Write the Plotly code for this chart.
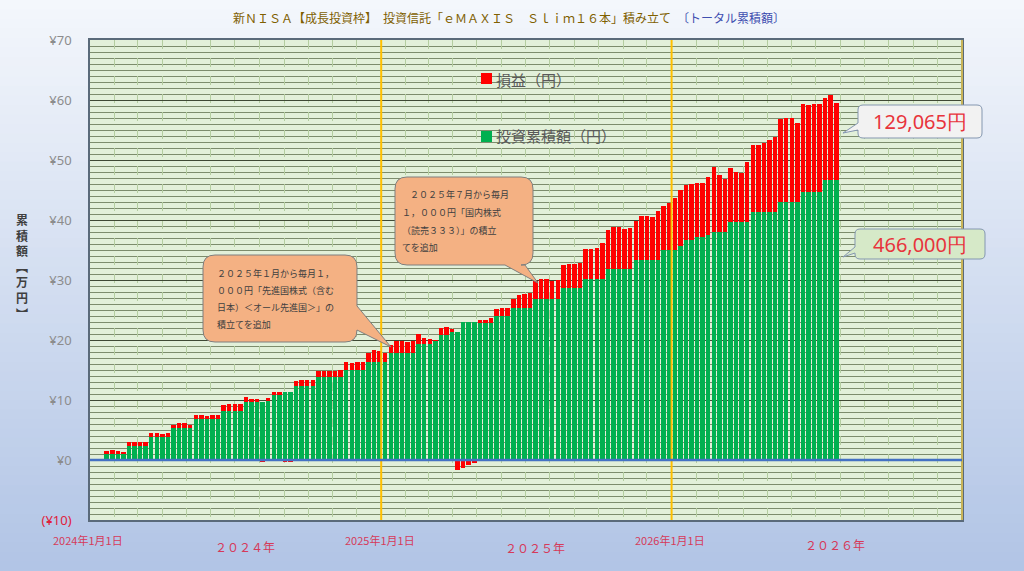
import plotly.graph_objects as go
import pandas as pd

# weekly snapshots (万円)
weeks = pd.date_range("2024-01-22", periods=132, freq="7D")

invest = [1.0, 1.0, 1.0, 1.0, 2.3, 2.3, 2.3, 2.3, 3.8, 3.8, 3.8, 3.8,
          5.3, 5.3, 5.3, 5.3, 6.8, 6.8, 6.8, 6.8, 6.8, 8.1, 8.1, 8.1, 8.1,
          9.7, 9.7, 9.7, 9.7, 9.8, 10.8, 10.8, 11.4, 11.4,
          12.3, 12.3, 12.3, 12.3, 13.8, 13.8, 13.8, 13.8, 13.8,
          15.0, 15.0, 15.0, 15.0, 16.4, 16.4, 16.4, 16.4,
          17.9, 17.9, 17.9, 17.9, 17.9, 19.4, 19.4, 19.4, 19.9, 20.8, 20.8, 21.4, 21.4,
          23.0, 23.0, 23.0, 22.8, 22.8, 22.8, 24.0, 24.0, 24.0,
          25.4, 25.4, 25.4, 25.4, 26.9, 26.9, 26.9, 26.9, 26.9,
          28.6, 28.6, 28.6, 28.6, 30.1, 30.1, 30.1, 30.1,
          31.8, 31.8, 31.8, 31.8, 31.8, 33.3, 33.3, 33.3, 33.3, 33.3,
          35.0, 35.0, 35.0, 35.6, 36.7, 36.7, 37.2, 37.2, 37.5, 38.0, 38.0, 38.0,
          39.7, 39.7, 39.7, 39.7, 41.4, 41.4, 41.4, 41.4, 41.4,
          43.0, 43.0, 43.0, 43.0, 44.7, 44.7, 44.7, 44.7, 46.6, 46.6, 46.6]

profit = [0.5, 0.6, 0.5, 0.4, 0.7, 0.7, 0.7, 0.7, 0.7, 0.7, 0.5, 0.7,
          0.6, 0.8, 0.8, 0.6, 0.7, 0.7, 0.6, 0.7, 0.7, 1.1, 1.2, 1.2, 1.2,
          0.8, 0.5, 0.5, -0.4, 0.5, 0.6, 0.6, -0.3, -0.3,
          0.8, 1.0, 1.0, 1.0, 1.0, 1.1, 1.1, 1.1, 1.2,
          1.3, 1.2, 1.3, 1.4, 1.5, 1.9, 1.8, 1.4,
          1.3, 2.0, 1.9, 1.8, 2.0, 1.6, 1.0, 0.8, 0.1, 1.2, 1.4, 0.5, -1.7,
          -1.3, -0.8, -0.5, 0.5, 0.6, 0.9, 1.2, 1.3, 1.3,
          1.5, 2.1, 2.3, 2.4, 3.0, 3.2, 3.3, 2.9, 3.1,
          3.9, 4.1, 4.1, 4.3, 5.0, 5.1, 5.2, 6.0,
          6.5, 7.0, 7.1, 6.7, 6.9, 6.6, 7.3, 7.4, 7.2, 8.2,
          7.3, 7.9, 8.6, 9.4, 9.1, 9.3, 8.9, 8.9, 9.7, 10.8, 9.5, 8.9,
          8.9, 8.3, 8.2, 10.0, 11.1, 11.1, 11.4, 11.9, 12.5,
          13.8, 14.0, 14.0, 13.1, 14.6, 14.5, 14.6, 14.6, 13.8, 14.2, 12.9]

y_ticks = [-10, 0, 10, 20, 30, 40, 50, 60, 70]
y_labels = ['<span style="color:#E0203A">(¥10)</span>', "¥0", "¥10", "¥20", "¥30",
            "¥40", "¥50", "¥60", "¥70"]

year_lines = ["2025-01-01", "2026-01-01"]
date_labels = ["2024年1月1日", "2025年1月1日", "2026年1月1日"]
year_labels = ["２０２４年", "２０２５年", "２０２６年"]

JP = "Noto Sans CJK JP"

# plot area in pixels: x 90..962, y 40..520
def pp(x, y):
    return (x - 90) / 872, (520 - y) / 480

def bubble(x0, y0, x1, y1, side, a, b, tip, r=8):
    seg = [("M", (x0 + r, y0)), ("L", (x1 - r, y0)), ("Q", (x1, y0), (x1, y0 + r))]
    if side == "right":
        seg += [("L", (x1, a)), ("L", tip), ("L", (x1, b))]
    seg += [("L", (x1, y1 - r)), ("Q", (x1, y1), (x1 - r, y1))]
    if side == "bottom":
        seg += [("L", (a, y1)), ("L", tip), ("L", (b, y1))]
    seg += [("L", (x0 + r, y1)), ("Q", (x0, y1), (x0, y1 - r))]
    if side == "left":
        seg += [("L", (x0, a)), ("L", tip), ("L", (x0, b))]
    seg += [("L", (x0, y0 + r)), ("Q", (x0, y0), (x0 + r, y0))]
    path = ""
    for s in seg:
        path += s[0] + " ".join("%.5f,%.5f" % pp(*p) for p in s[1:]) + " "
    return path + "Z"

fig = go.Figure()
fig.add_trace(go.Bar(x=weeks, y=invest, name="投資累積額（円）", marker_color="#00B050",
                     marker_line_width=0, width=5.6 * 86400000))
fig.add_trace(go.Bar(x=weeks, y=profit, name="損益（円）", marker_color="#FF0000",
                     marker_line_width=0, width=5.6 * 86400000))

shapes = []
# background gradient
n = 60
for k in range(n):
    t = k / (n - 1)
    c = (int(244 - 66 * t), int(247 - 50 * t), int(252 - 22 * t))
    y0 = 571 * k / n
    y1 = 571 * (k + 1) / n + 1
    shapes.append(dict(type="rect", xref="paper", yref="paper", layer="below",
                       x0=pp(0, 0)[0], x1=pp(1024, 0)[0], y0=pp(0, y1)[1], y1=pp(0, y0)[1],
                       fillcolor="rgb(%d,%d,%d)" % c, line_width=0))
# plot area fill
shapes.append(dict(type="rect", xref="x domain", yref="y domain", layer="below",
                   x0=0, x1=1, y0=0, y1=1, fillcolor="#E2F0D9", line_width=0))
for d in year_lines:
    shapes.append(dict(type="line", xref="x", yref="y domain", layer="above",
                       x0=d, x1=d, y0=0, y1=1, line=dict(color="#FFC000", width=2)))
shapes.append(dict(type="line", xref="x domain", yref="y domain", x0=1, x1=1, y0=0, y1=1,
                   line=dict(color="#C9B458", width=2)))
shapes.append(dict(type="line", xref="x domain", yref="y", x0=0, x1=1, y0=0, y1=0,
                   line=dict(color="#4472C4", width=2.5)))
# callouts
shapes.append(dict(type="path", xref="paper", yref="paper",
                   path=bubble(203, 255, 357, 342, "right", 306, 330, (391, 347), 12),
                   fillcolor="#F4B183", line=dict(color="#7F7F7F", width=1)))
shapes.append(dict(type="path", xref="paper", yref="paper",
                   path=bubble(395, 177, 533, 265, "bottom", 525, 505, (538, 283), 12),
                   fillcolor="#F4B183", line=dict(color="#7F7F7F", width=1)))
shapes.append(dict(type="path", xref="paper", yref="paper",
                   path=bubble(858, 105, 982, 138, "left", 130, 123, (843, 133), 5),
                   fillcolor="#F2F2F2", line=dict(color="#8497B0", width=1)))
shapes.append(dict(type="path", xref="paper", yref="paper",
                   path=bubble(855, 229, 985, 259, "left", 253, 247, (843, 257), 5),
                   fillcolor="#D6E9C8", line=dict(color="#8497B0", width=1)))
# legend squares
for (c, yt) in [("#FF0000", 73), ("#00B050", 131)]:
    x0, y0 = pp(481, yt)
    x1, y1 = pp(492, yt + 11)
    shapes.append(dict(type="rect", xref="paper", yref="paper", x0=x0, x1=x1, y0=y1, y1=y0,
                       fillcolor=c, line_width=0))

ann = []
def text(x, y, s, size, color, anchor="center", family=JP):
    px_, py_ = pp(x, y)
    ann.append(dict(x=px_, y=py_, xref="paper", yref="paper", text=s, showarrow=False,
                    xanchor=anchor, yanchor="middle", font=dict(size=size, color=color, family=family)))

text(509, 17, '新ＮＩＳＡ【成長投資枠】　投資信託「ｅＭＡＸＩＳ　Ｓｌｉｍ１６本」積み立て　'
     '<span style="color:#3F4FB0">〔トータル累積額〕</span>', 12, "#7F6000")
text(22, 266, "<b>" + "<br>".join("累積額︻万円︼") + "</b>", 12, "#404040")
text(494, 79, "損益（円）", 15, "#595959", "left")
text(494, 136, "投資累積額（円）", 15, "#595959", "left")

c1 = ["２０２５年１月から毎月１，", "０００円「先進国株式（含む", "日本）＜オール先進国＞」の", "積立てを追加"]
for k, s in enumerate(c1):
    text(215, 273 + 17 * k, s, 9, "#404040", "left")
c2 = ["２０２５年７月から毎月", "１，０００円「国内株式", "（読売３３３）」の積立", "てを追加"]
for k, s in enumerate(c2):
    text(400 + (8 if k == 0 else 0), 195 + 17.5 * k, s, 9, "#404040", "left")

text(920, 122, "129,065円", 20, "#E8343C", family="Noto Sans")
text(920, 244, "466,000円", 20, "#E8343C", family="Noto Sans")

red = "#D63A5A"
for k, s in enumerate(date_labels):
    text([88, 380, 670][k], 540, s, 11, red)
for k, s in enumerate(year_labels):
    text([245, 535, 835][k], [546, 547, 544][k], s, 12, red)

fig.update_layout(
    width=1024, height=571,
    margin=dict(l=90, r=62, t=40, b=51),
    barmode="relative", bargap=0,
    paper_bgcolor="#E8EDF7", plot_bgcolor="rgba(0,0,0,0)",
    showlegend=False,
    font=dict(family=JP),
    shapes=shapes, annotations=ann,
)
fig.update_xaxes(type="date", range=["2024-01-01", "2027-01-01"], showticklabels=False,
                 dtick="M1", tick0="2024-01-01", showgrid=True, griddash="dash",
                 gridcolor="#B4CDA0", gridwidth=1, ticks="",
                 showline=True, linecolor="#5A6A7A", linewidth=1.5, mirror=True, zeroline=False)
fig.update_yaxes(range=[-10, 70], tickvals=y_ticks, ticktext=y_labels,
                 tickfont=dict(size=13, color="#8C8C8C", family="Noto Sans"),
                 ticklabelstandoff=14, showgrid=True, gridcolor="#3F4A35", gridwidth=1.2,
                 minor=dict(dtick=1, showgrid=True, gridcolor="#7C8C6C", gridwidth=0.8),
                 zeroline=False, showline=True, linecolor="#5A6A7A", linewidth=1.5, mirror=True)

fig.write_html("out.html", config={"displayModeBar": False},
               post_script="document.body.style.margin='0px';")
